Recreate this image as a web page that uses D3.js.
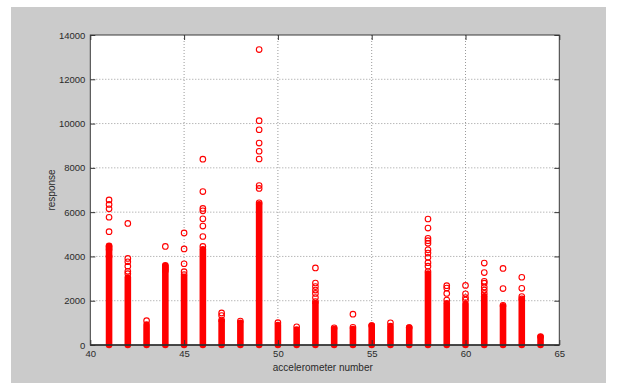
<!DOCTYPE html>
<html>
<head>
<meta charset="utf-8">
<script src="https://cdn.jsdelivr.net/npm/d3@7/dist/d3.min.js"></script>
<style>
  html, body { margin: 0; padding: 0; background: #ffffff; }
  svg { display: block; }
  text { font-family: "Liberation Sans", Arial, sans-serif; fill: #2a2a2a; }
</style>
</head>
<body>
<svg id="chart" width="617" height="383"></svg>
<script>
// Accelerometer channels on the x axis
const sensors = [41, 42, 43, 44, 45, 46, 47, 48, 49, 50, 51, 52,
                 53, 54, 55, 56, 57, 58, 59, 60, 61, 62, 63, 64];

// Top of the densely packed run of responses for each channel (from 0 up)
const denseTop = [4480, 3050, 920, 3600, 3080, 4320, 1070, 1000, 6350, 900, 700, 1880,
                  720, 720, 880, 860, 790, 3230, 1880, 1850, 2200, 1750, 2030, 360];

// Individually visible responses above / around each dense run
const sparse = [
  [6550, 6350, 6150, 5770, 5120, 4450, 4320, 4000],
  [5490, 3910, 3760, 3560, 3330, 3220],
  [1100],
  [4450, 3560, 3450, 3350],
  [5060, 4340, 3670, 3310, 3180],
  [8390, 6930, 6170, 6060, 5700, 5370, 4900, 4450],
  [1450, 1330, 1130],
  [1080],
  [13340, 10130, 9720, 9120, 8750, 8400, 7200, 7070, 6420],
  [1010],
  [820],
  [3480, 2800, 2640, 2480, 2330, 2140, 1960],
  [780],
  [1390, 800],
  [880],
  [1000],
  [790],
  [5690, 5280, 4820, 4710, 4590, 4300, 4150, 3960, 3720, 3560, 3320],
  [2680, 2570, 2330, 2030],
  [2690, 2310, 2140, 2030],
  [3700, 3270, 2880, 2790, 2620, 2480, 2330],
  [3460, 2550, 1790],
  [3060, 2560, 2190, 2080],
  [380]
];

const xTicks = [40, 45, 50, 55, 60, 65];
const yTicks = [0, 2000, 4000, 6000, 8000, 10000, 12000, 14000];
const xLabel = "accelerometer number";
const yLabel = "response";

const svg = d3.select("#chart");

// Figure background
svg.append("rect")
  .attr("x", 11).attr("y", 7)
  .attr("width", 595).attr("height", 376)
  .attr("fill", "#cbcbcb");

const pLeft = 90.3, pRight = 559.3, pTop = 35, pBottom = 345;
const x = d3.scaleLinear().domain([40, 65]).range([pLeft, pRight]);
const y = d3.scaleLinear().domain([0, 14000]).range([pBottom, pTop]);

// Plot area
svg.append("rect")
  .attr("x", pLeft).attr("y", pTop)
  .attr("width", pRight - pLeft).attr("height", pBottom - pTop)
  .attr("fill", "#ffffff");

// Dotted grid
const grid = svg.append("g").attr("class", "grid");
grid.selectAll("line.v")
  .data(xTicks.slice(1, -1))
  .join("line")
  .attr("class", "v")
  .attr("x1", d => x(d)).attr("x2", d => x(d))
  .attr("y1", pTop).attr("y2", pBottom);
grid.selectAll("line.h")
  .data(yTicks.slice(1, -1))
  .join("line")
  .attr("class", "h")
  .attr("x1", pLeft).attr("x2", pRight)
  .attr("y1", d => y(d)).attr("y2", d => y(d));
grid.selectAll("line")
  .attr("stroke", "#9a9a9a")
  .attr("stroke-width", 1)
  .attr("stroke-dasharray", "1,2");

// Data: dense runs drawn as stacks of overlapping markers, then sparse markers
const r = 2.8;
const marks = svg.append("g");
marks.selectAll("rect.run")
  .data(sensors.map((s, i) => ({ s, top: denseTop[i] })))
  .join("rect")
  .attr("class", "run")
  .attr("x", d => x(d.s) - r - 0.5)
  .attr("width", 2 * r + 1)
  .attr("y", d => y(d.top) - r - 0.5)
  .attr("height", d => y(0) - y(d.top) + 2 * r + 1)
  .attr("rx", r + 0.5)
  .attr("fill", "#ff0000");

const pts = [];
sensors.forEach((s, i) => sparse[i].forEach(v => pts.push({ s, v })));
marks.selectAll("circle")
  .data(pts)
  .join("circle")
  .attr("cx", d => x(d.s))
  .attr("cy", d => y(d.v))
  .attr("r", r)
  .attr("fill", "none")
  .attr("stroke", "#ff0000")
  .attr("stroke-width", 1.1);

// Axes with inward ticks on all four sides
const tickStroke = "#333333";
const fmt = d3.format("d");
const gx = svg.append("g").attr("transform", `translate(0,${pBottom})`)
  .call(d3.axisBottom(x).tickValues(xTicks).tickFormat(fmt)
    .tickSizeInner(-5).tickSizeOuter(0).tickPadding(5));
const gxt = svg.append("g").attr("transform", `translate(0,${pTop})`)
  .call(d3.axisTop(x).tickValues(xTicks).tickSizeInner(-5).tickSizeOuter(0).tickFormat(""));
const gy = svg.append("g").attr("transform", `translate(${pLeft},0)`)
  .call(d3.axisLeft(y).tickValues(yTicks).tickFormat(fmt)
    .tickSizeInner(-5).tickSizeOuter(0).tickPadding(5));
const gyr = svg.append("g").attr("transform", `translate(${pRight},0)`)
  .call(d3.axisRight(y).tickValues(yTicks).tickSizeInner(-5).tickSizeOuter(0).tickFormat(""));

[gx, gxt, gy, gyr].forEach(g => {
  g.select(".domain").remove();
  g.selectAll(".tick line").attr("stroke", tickStroke);
  g.selectAll("text")
    .style("font-family", "'Liberation Sans', Arial, sans-serif")
    .style("font-size", "9.5px")
    .attr("fill", "#2a2a2a");
});

// Axes box
svg.append("rect")
  .attr("x", pLeft).attr("y", pTop)
  .attr("width", pRight - pLeft).attr("height", pBottom - pTop)
  .attr("fill", "none")
  .attr("stroke", "#3a3a3a")
  .attr("stroke-width", 1);
svg.append("line")
  .attr("x1", pLeft).attr("x2", pRight)
  .attr("y1", pBottom).attr("y2", pBottom)
  .attr("stroke", "#2e2e2e").attr("stroke-width", 1.5);

// Axis titles
svg.append("text")
  .attr("x", (pLeft + pRight) / 2 - 2)
  .attr("y", 371)
  .attr("text-anchor", "middle")
  .style("font-size", "10px")
  .text(xLabel);
svg.append("text")
  .attr("transform", `translate(55,${(pTop + pBottom) / 2}) rotate(-90)`)
  .attr("text-anchor", "middle")
  .style("font-size", "10px")
  .text(yLabel);
</script>
</body>
</html>
